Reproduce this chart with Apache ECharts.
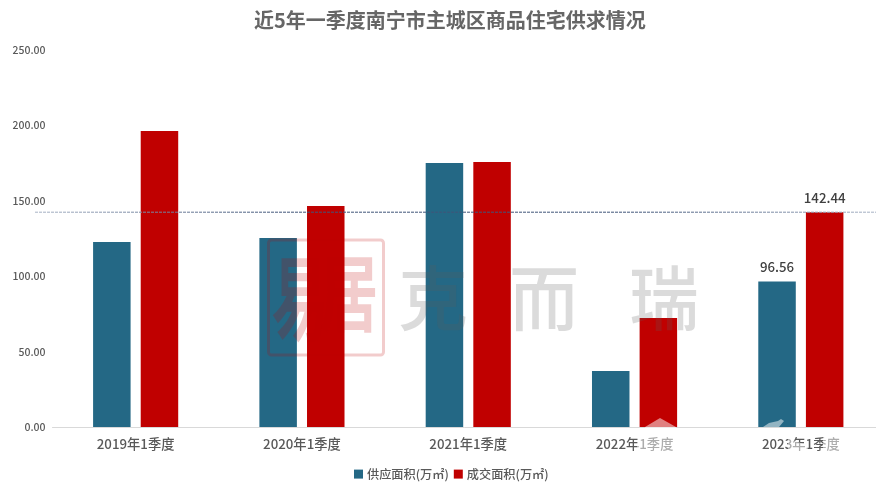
<!DOCTYPE html>
<html>
<head>
<meta charset="utf-8">
<style>html,body{margin:0;padding:0;background:#fff}#chart{width:876px;height:487px}</style>
<script src="https://cdn.jsdelivr.net/npm/echarts@6/dist/echarts.min.js"></script>
</head>
<body>
<div id="chart"></div>
<script>
const titleText = '近5年一季度南宁市主城区商品住宅供求情况';
const quarters = ['2019年1季度', '2020年1季度', '2021年1季度', '2022年1季度', '2023年1季度'];
const supplyName = '供应面积(万㎡)';
const dealName = '成交面积(万㎡)';
const supply = [122.7, 125.3, 175.0, 37.1, 96.56];
const deal = [196.3, 146.6, 175.7, 72.3, 142.44];
const labelledIndex = 4;
const referenceLevel = [142.44, 142.44];
const referenceEnds = ['start', 'end'];

const FONT = '"Noto Sans CJK SC", "Noto Sans", sans-serif';
const GREY = '#595959';
const sharedGrid = { top: 50, bottom: 60 };

// Only the most recent quarter carries a value label
const withLabel = (values) => values.map((value, i) => i === labelledIndex
  ? { value, label: { show: true, position: 'top', distance: 8, fontFamily: FONT, fontSize: 13.3, fontWeight: 500, color: '#404040', formatter: (p) => p.value.toFixed(2) } }
  : value);

// Translucent brand marks laid over the plot
const stampRed = 'rgba(192,0,0,0.2)';
const stampGrey = 'rgba(90,90,90,0.22)';
const fade = 'rgba(255,255,255,0.5)';
const brandText = (ch, x, y, size, fill, sx, weight) => ({
  type: 'text', z: 100, silent: true, x, y, scaleX: sx || 1,
  style: { text: ch, fontFamily: FONT, fontSize: size, fontWeight: weight, fill, textVerticalAlign: 'middle', textAlign: 'center' }
});
const veil = (points) => ({ type: 'polygon', z: 100, silent: true, shape: { points }, style: { fill: fade } });

const chart = echarts.init(document.getElementById('chart'), null, { renderer: 'canvas' });
chart.setOption({
  animation: false,
  backgroundColor: '#fff',
  textStyle: { fontFamily: FONT },
  title: {
    text: titleText, left: 249, top: 5,
    textStyle: { fontFamily: FONT, fontSize: 20, fontWeight: 'bold', color: '#666666' }
  },
  legend: {
    left: 349, top: 463, itemWidth: 9, itemHeight: 9, itemGap: 5, icon: 'rect',
    textStyle: { fontFamily: FONT, fontSize: 12.2, fontWeight: 500, color: GREY, padding: [0, 0, 0, -1] },
    data: [supplyName, dealName]
  },
  grid: [
    { left: 52.5, width: 831.5, outerBoundsMode: 'none', ...sharedGrid },
    { left: 35, right: 0, outerBoundsMode: 'none', ...sharedGrid }
  ],
  xAxis: [
    {
      type: 'category', gridIndex: 0, data: quarters,
      axisTick: { show: false },
      axisLine: { lineStyle: { color: '#d9d9d9', width: 1 } },
      axisLabel: { fontFamily: FONT, fontSize: 13.3, fontWeight: 500, color: GREY, margin: 10 }
    },
    { type: 'category', gridIndex: 1, data: referenceEnds, boundaryGap: false, show: false }
  ],
  yAxis: [
    {
      type: 'value', gridIndex: 0, min: 0, max: 250, interval: 50,
      splitLine: { show: false }, axisLine: { show: false }, axisTick: { show: false },
      axisLabel: { fontFamily: FONT, fontSize: 10.5, fontWeight: 500, color: GREY, margin: 7, formatter: (v) => v.toFixed(2) }
    },
    { type: 'value', gridIndex: 1, min: 0, max: 250, show: false }
  ],
  series: [
    {
      name: supplyName, type: 'bar', data: withLabel(supply),
      barWidth: 37.5, barGap: '27%', itemStyle: { color: '#246885' }
    },
    {
      name: dealName, type: 'bar', data: withLabel(deal),
      barWidth: 37.5, itemStyle: { color: '#c00000' }
    },
    {
      // Dashed level of the latest transaction area, wider than the bar grid
      type: 'line', xAxisIndex: 1, yAxisIndex: 1, data: referenceLevel, z: 5,
      symbol: 'none', silent: true,
      lineStyle: {
        width: 1, type: [3, 1],
        color: new echarts.graphic.LinearGradient(0, 0, 1, 0, [
          { offset: 0, color: '#a9b4c6' },
          { offset: 0.3, color: '#3f5478' },
          { offset: 0.7, color: '#3f5478' },
          { offset: 1, color: '#a9b4c6' }
        ])
      }
    }
  ],
  graphic: [
    {
      type: 'rect', z: 100, silent: true,
      shape: { x: 268.5, y: 240, width: 115, height: 115, r: 3 },
      style: { fill: 'none', stroke: stampRed, lineWidth: 3 }
    },
    brandText('易', 300, 298, 92, stampRed, 0.62, 'bold'),
    brandText('居', 349, 293, 84, stampRed, 0.7, 'bold'),
    brandText('克', 433, 298, 70, stampGrey, 1, 500),
    brandText('而', 544, 298, 70, stampGrey, 1, 500),
    brandText('瑞', 664, 298, 70, stampGrey, 1, 500),
    // Pale logo fragments crossing the lower right of the axis
    veil([[645, 427], [660, 418], [676, 427], [676, 453], [637, 453], [637, 436], [645, 436]]),
    veil([[763, 427], [769, 423], [778, 421], [781, 419], [784, 421], [779, 427]]),
    veil([[788, 438], [808, 446], [808, 453], [788, 453]]),
    veil([[823, 436], [841, 436], [841, 453], [823, 453]])
  ]
});
</script>
</body>
</html>
